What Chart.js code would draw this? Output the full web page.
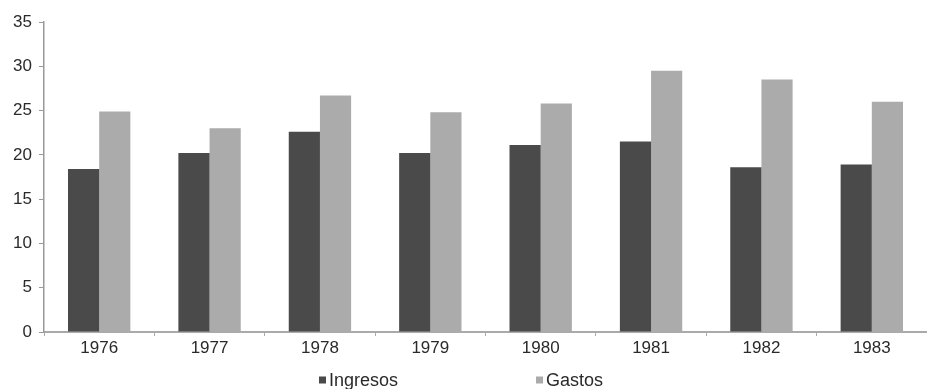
<!DOCTYPE html>
<html>
<head>
<meta charset="utf-8">
<script src="https://cdn.jsdelivr.net/npm/chart.js@4/dist/chart.umd.min.js"></script>
<style>
  html, body { margin: 0; padding: 0; background: #fff; overflow: hidden; }
  #wrap { width: 927px; height: 389px; }
</style>
</head>
<body>
<div id="wrap"><canvas id="c"></canvas></div>
<script>
// Years on the category axis
const years = ['1976', '1977', '1978', '1979', '1980', '1981', '1982', '1983'];
// Revenue and spending per year
const ingresos = [18.4, 20.2, 22.6, 20.2, 21.1, 21.5, 18.6, 18.9];
const gastos = [24.9, 23.0, 26.7, 24.8, 25.8, 29.5, 28.5, 26.0];
// Value axis range and step
const yMin = 0;
const yMax = 35;
const yStep = 5;

const FONT = '"Liberation Sans", Arial, sans-serif';

// Legend drawn along the bottom, with the two entries set wide apart
const bottomLegend = {
  id: 'bottomLegend',
  afterDraw(chart) {
    const ctx = chart.ctx;
    const spots = [319, 536];
    const yc = 380;
    ctx.save();
    ctx.font = '18px ' + FONT;
    ctx.textBaseline = 'middle';
    ctx.textAlign = 'left';
    chart.data.datasets.forEach((ds, i) => {
      const x = spots[i];
      ctx.fillStyle = ds.backgroundColor;
      ctx.fillRect(x, yc - 3.5, 7, 7);
      ctx.fillStyle = '#2a2a2a';
      ctx.fillText(ds.label, x + 10, yc + 1);
    });
    ctx.restore();
  }
};

new Chart(document.getElementById('c'), {
  type: 'bar',
  data: {
    labels: years,
    datasets: [
      { label: 'Ingresos', data: ingresos, backgroundColor: '#4a4a4a', borderWidth: 0 },
      { label: 'Gastos', data: gastos, backgroundColor: '#ababab', borderWidth: 0 }
    ]
  },
  options: {
    responsive: true,
    maintainAspectRatio: false,
    animation: false,
    layout: { padding: { top: 22, left: 0, right: -10, bottom: 31 } },
    plugins: {
      legend: { display: false },
      tooltip: { enabled: false }
    },
    datasets: {
      bar: { categoryPercentage: 0.565, barPercentage: 1.0 }
    },
    scales: {
      x: {
        grid: { display: true, drawOnChartArea: false, drawTicks: true, tickLength: 4, color: '#aaa', lineWidth: 1 },
        border: { display: true, color: '#aaa', width: 2 },
        ticks: { color: '#2a2a2a', font: { family: FONT, size: 17 }, padding: 2 },
        afterFit(scale) { scale.height = 26; }
      },
      y: {
        min: yMin,
        max: yMax,
        grid: { display: true, drawOnChartArea: false, drawTicks: true, tickLength: 5, color: '#999', lineWidth: 1 },
        border: { display: true, color: '#999', width: 1.5 },
        ticks: { stepSize: yStep, color: '#2a2a2a', font: { family: FONT, size: 17 }, padding: 7 },
        afterFit(scale) { scale.width = 44; }
      }
    }
  },
  plugins: [bottomLegend]
});
</script>
</body>
</html>
